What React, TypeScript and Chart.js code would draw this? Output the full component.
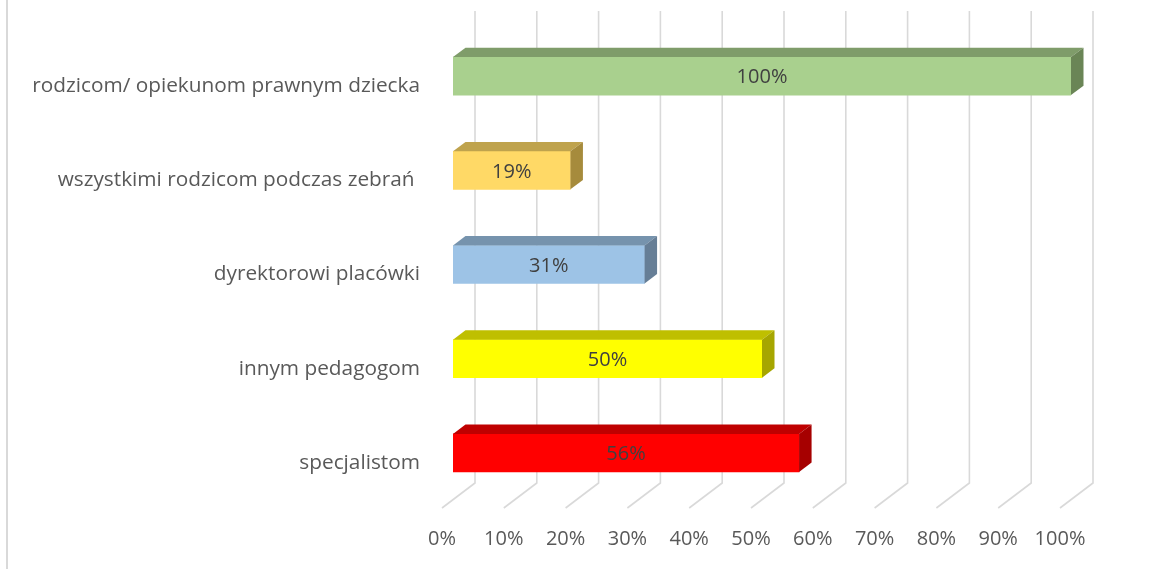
import React, { useEffect, useRef } from "react";
import { Chart, registerables } from "chart.js";

Chart.register(...registerables);

const categories = [
  "rodzicom/ opiekunom prawnym dziecka",
  "wszystkimi rodzicom podczas zebrań ",
  "dyrektorowi placówki",
  "innym pedagogom",
  "specjalistom",
];
const values = [100, 19, 31, 50, 56];
const frontColors = ["#A9D08E", "#FFD966", "#9DC3E6", "#FFFF00", "#FF0000"];
const topColors = ["#7F9C6A", "#BFA34D", "#7693AD", "#BFBF00", "#BF0000"];
const sideColors = ["#6A8556", "#A68B3C", "#667E96", "#A6A600", "#A60000"];
const tickValues = [0, 10, 20, 30, 40, 50, 60, 70, 80, 90, 100];

const FONT = "'Open Sans', sans-serif";
const DEPTH_X = 12.5;
const DEPTH_Y = 9.4;

const threeD = {
  id: "threeD",
  beforeDraw(chart: any) {
    const ctx = chart.ctx;
    ctx.save();
    ctx.fillStyle = "#ffffff";
    ctx.fillRect(0, 0, chart.width, chart.height);
    ctx.strokeStyle = "#D9D9D9";
    ctx.lineWidth = 2;
    ctx.beginPath();
    ctx.moveTo(7, 0);
    ctx.lineTo(7, chart.height);
    ctx.stroke();
    ctx.restore();
  },
  beforeDatasetsDraw(chart: any) {
    const ctx = chart.ctx;
    const x = chart.scales.x;
    const area = chart.chartArea;
    ctx.save();
    ctx.strokeStyle = "#D9D9D9";
    ctx.lineWidth = 1.6;
    tickValues.forEach((v) => {
      const xf = x.getPixelForValue(v);
      const back = xf + 22;
      ctx.beginPath();
      ctx.moveTo(back, area.top - 18);
      ctx.lineTo(back, area.bottom - 17);
      ctx.lineTo(back - 33, area.bottom + 8);
      ctx.stroke();
    });
    ctx.restore();
  },
  afterDatasetsDraw(chart: any) {
    const ctx = chart.ctx;
    const meta = chart.getDatasetMeta(0);
    ctx.save();
    meta.data.forEach((bar: any, i: number) => {
      const { x, y, base, height } = bar.getProps(["x", "y", "base", "height"], true);
      const top = y - height / 2;
      const bottom = y + height / 2;
      ctx.fillStyle = topColors[i];
      ctx.beginPath();
      ctx.moveTo(base, top);
      ctx.lineTo(base + DEPTH_X, top - DEPTH_Y);
      ctx.lineTo(x + DEPTH_X, top - DEPTH_Y);
      ctx.lineTo(x, top);
      ctx.closePath();
      ctx.fill();
      ctx.fillStyle = sideColors[i];
      ctx.beginPath();
      ctx.moveTo(x, top);
      ctx.lineTo(x + DEPTH_X, top - DEPTH_Y);
      ctx.lineTo(x + DEPTH_X, bottom - DEPTH_Y);
      ctx.lineTo(x, bottom);
      ctx.closePath();
      ctx.fill();
      ctx.fillStyle = "#404040";
      ctx.font = `20px ${FONT}`;
      ctx.textAlign = "center";
      ctx.textBaseline = "middle";
      ctx.fillText(values[i] + "%", (x + base) / 2, y + 1.5);
    });
    ctx.restore();
  },
};

export default function App() {
  const ref = useRef<HTMLCanvasElement>(null);
  useEffect(() => {
    if (!ref.current) return;
    const chart = new Chart(ref.current, {
      type: "bar",
      data: {
        labels: categories,
        datasets: [
          {
            data: values,
            backgroundColor: frontColors,
            borderWidth: 0,
            barThickness: 38,
          },
        ],
      },
      options: {
        indexAxis: "y",
        responsive: false,
        animation: false,
        layout: { padding: { left: 0, right: 80, top: 29, bottom: 0 } },
        plugins: { legend: { display: false }, tooltip: { enabled: false } },
        scales: {
          x: {
            min: 0,
            max: 100,
            afterBuildTicks: (s: any) => {
              s.ticks = tickValues.map((v) => ({ value: v }));
            },
            afterFit: (s: any) => {
              s.height = 69;
              s.paddingLeft = 0;
              s.paddingRight = 0;
            },
            grid: { display: false, drawTicks: false },
            border: { display: false },
            ticks: {
              labelOffset: -11,
              padding: 27,
              color: "#595959",
              font: { family: FONT, size: 20 },
              maxRotation: 0,
              autoSkip: false,
              callback: (v: any) => v + "%",
            },
          },
          y: {
            afterFit: (s: any) => {
              s.width = 453;
              s.paddingTop = 0;
              s.paddingBottom = 0;
            },
            grid: { display: false, drawTicks: false },
            border: { display: false },
            ticks: {
              labelOffset: 10,
              padding: 33,
              color: "#595959",
              font: { family: FONT, size: 20.8 },
            },
          },
        },
      },
      plugins: [threeD],
    } as any);
    return () => chart.destroy();
  }, []);
  return (
    <div style={{ position: "fixed", left: 0, top: 0, width: 1151, height: 569, background: "#fff" }}>
      <canvas ref={ref} width={1151} height={569} style={{ display: "block" }} />
    </div>
  );
}
